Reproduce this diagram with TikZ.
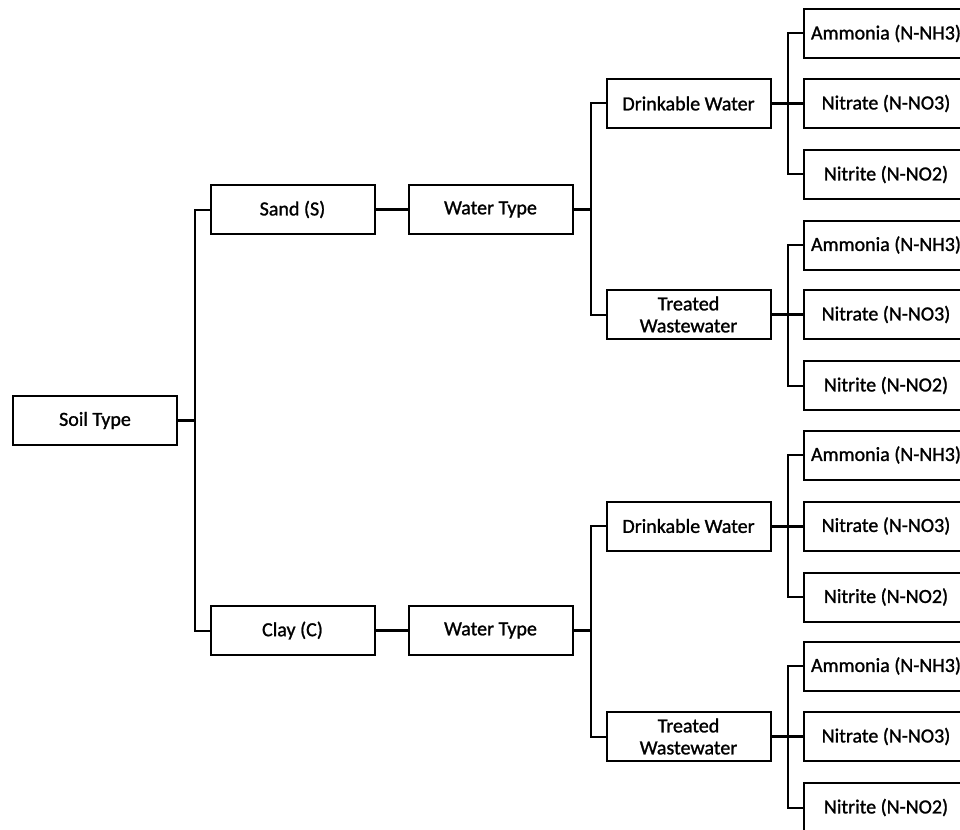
\documentclass[tikz,border=0pt]{standalone}
\usepackage{fontspec}
\setmainfont{Carlito}
\newfontfamily\semibfont{Carlito}[FakeBold=1.2]
\begin{document}
\begin{tikzpicture}[x=1pt,y=-1pt,
  box/.style={draw, line width=2pt, minimum width=164pt, minimum height=49pt, inner sep=0pt, align=center, font=\semibfont\fontsize{20}{22}\selectfont},
  conn/.style={line width=2pt, line join=miter},
  trunk/.style={line width=3pt}]
\useasboundingbox (0,0) rectangle (960,829);
% level 0
\node[box] (soil) at (95,420.5) {Soil Type};
% level 1
\node[box] (sand) at (292.5,209.5) {Sand (S)};
\node[box] (clay) at (292.5,630.5) {Clay (C)};
% level 2
\node[box] (wt1) at (490.5,209.5) {Water Type};
\node[box] (wt2) at (490.5,630.5) {Water Type};
% level 3
\node[box] (dw1) at (688.5,103.5) {Drinkable Water};
\node[box] (tw1) at (688.5,314.5) {Treated\\Wastewater};
\node[box] (dw2) at (688.5,526) {Drinkable Water};
\node[box] (tw2) at (688.5,736.5) {Treated\\Wastewater};
% leaves
\node[box] (a1) at (886,33.5) {Ammonia (N-NH3)};
\node[box] (n1) at (886,103.5) {Nitrate (N-NO3)};
\node[box] (r1) at (886,174.5) {Nitrite (N-NO2)};
\node[box] (a2) at (886,245) {Ammonia (N-NH3)};
\node[box] (n2) at (886,314.5) {Nitrate (N-NO3)};
\node[box] (r2) at (886,385.5) {Nitrite (N-NO2)};
\node[box] (a3) at (886,455) {Ammonia (N-NH3)};
\node[box] (n3) at (886,526) {Nitrate (N-NO3)};
\node[box] (r3) at (886,597) {Nitrite (N-NO2)};
\node[box] (a4) at (886,666) {Ammonia (N-NH3)};
\node[box] (n4) at (886,736.5) {Nitrate (N-NO3)};
\node[box] (r4) at (886,807.5) {Nitrite (N-NO2)};
% connectors
\draw[trunk] (soil.east) -- ++(16,0);
\draw[conn] (sand.west) -- ++(-15,0) |- (clay.west);
\draw[trunk] (sand.east) -- (wt1.west);
\draw[trunk] (clay.east) -- (wt2.west);
\draw[trunk] (wt1.east) -- ++(17,0);
\draw[conn] (dw1.west) -- ++(-15,0) |- (tw1.west);
\draw[trunk] (wt2.east) -- ++(17,0);
\draw[conn] (dw2.west) -- ++(-15,0) |- (tw2.west);
\draw[trunk] (dw1.east) -- (n1.west);
\draw[conn] (a1.west) -- ++(-15,0) |- (r1.west);
\draw[trunk] (tw1.east) -- (n2.west);
\draw[conn] (a2.west) -- ++(-15,0) |- (r2.west);
\draw[trunk] (dw2.east) -- (n3.west);
\draw[conn] (a3.west) -- ++(-15,0) |- (r3.west);
\draw[trunk] (tw2.east) -- (n4.west);
\draw[conn] (a4.west) -- ++(-15,0) |- (r4.west);
\end{tikzpicture}
\end{document}
